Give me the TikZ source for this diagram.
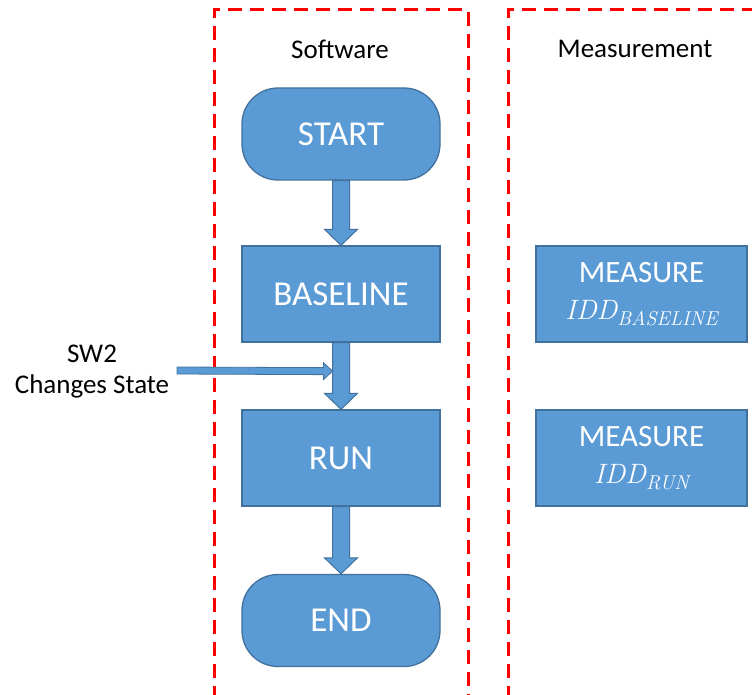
\documentclass[tikz,border=0pt]{standalone}
\usepackage{fontspec}
\setmainfont{Carlito}
\newfontfamily\idfont{Latin Modern Roman}
\usetikzlibrary{calc}
\definecolor{boxfill}{HTML}{5B9BD5}
\definecolor{boxline}{HTML}{41719C}
\definecolor{dashred}{HTML}{FF0000}
\tikzset{
  flowbox/.style={draw=boxline, fill=boxfill, line width=1.3pt, minimum width=198pt, minimum height=96pt, text=white, font=\fontsize{35}{40}\selectfont, inner sep=0pt, align=center},
  termbox/.style={flowbox, minimum height=92pt, rounded corners=36pt},
  measbox/.style={flowbox, minimum width=211pt, font=\fontsize{31}{38}\selectfont},
  barrow/.style={draw=boxline, fill=boxfill, line width=1pt, line join=miter},
  zone/.style={draw=dashred, line width=3pt, dash pattern=on 14pt off 8pt},
  label/.style={font=\fontsize{27}{31}\selectfont, text=black, align=center, inner sep=0pt}
}
\newcommand\idd[1]{{\idfont\itshape\fontsize{28}{32}\selectfont IDD\raisebox{-6pt}{\fontsize{20}{22}\selectfont #1}}}
\newcommand\vblock[2]{%
  \draw[barrow] ($(#1.south)+(-8.5,0)$) -- ($(#2.north)+(-8.5,-16)$) -- ($(#2.north)+(-16.5,-16)$) -- (#2.north) -- ($(#2.north)+(16.5,-16)$) -- ($(#2.north)+(8.5,-16)$) -- ($(#1.south)+(8.5,0)$) -- cycle;}
\begin{document}
\begin{tikzpicture}[x=1pt,y=-1pt]
\useasboundingbox (0,0) rectangle (752,695);
% zones
\draw[zone] (214,700) -- (214,10) -- (468,10) -- (468,700);
\draw[zone] (508,700) -- (508,10) -- (760,10);
\node[label] (swlabel) at (340,49) {Software};
\node[label] (measlabel) at (635,49) {Measurement};
% flow nodes
\node[termbox] (start) at (341,134) {START};
\node[flowbox] (baseline) at (341,294) {BASELINE};
\node[flowbox] (run) at (341,458) {RUN};
\node[termbox] (end) at (341,620.5) {END};
% measurement nodes
\node[measbox] (m1) at (641.5,294) {MEASURE\\[-1pt]\idd{BASELINE}};
\node[measbox] (m2) at (641.5,458) {MEASURE\\[-1pt]\idd{RUN}};
% block arrows
\vblock{start}{baseline}
\vblock{baseline}{run}
\vblock{run}{end}
% SW2 input
\node[label] (sw2) at (92,371.5) {SW2\\Changes State};
\coordinate (sw2tail) at (177,370.5);
\coordinate (sw2tip) at ($(baseline.south)+(-8.5,28.5)$);
\draw[barrow, line width=0.8pt] ($(sw2tail)+(0,-3.5)$) -- ($(sw2tip)+(-9,-3.5)$) -- ($(sw2tip)+(-9,-8.5)$) -- (sw2tip) -- ($(sw2tip)+(-9,8.5)$) -- ($(sw2tip)+(-9,3.5)$) -- ($(sw2tail)+(0,3.5)$) -- cycle;
\end{tikzpicture}
\end{document}
